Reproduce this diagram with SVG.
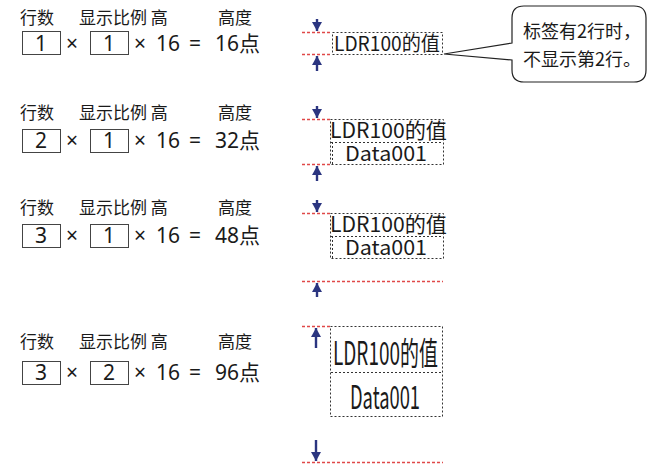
<svg xmlns="http://www.w3.org/2000/svg" width="649" height="466" viewBox="0 0 649 466">
<style>
text{font-family:"Noto Sans CJK SC","Noto Sans",sans-serif;fill:#1a1a1a}
.hd{font-size:17px}
.num{font-size:21px;font-family:"Noto Sans","Noto Sans CJK SC",sans-serif}
.box{fill:none;stroke:#444;stroke-width:1}
.dot{fill:none;stroke:#333;stroke-width:1;stroke-dasharray:2 2}
.red{stroke:#e04848;stroke-width:1.3;stroke-dasharray:3 2;fill:none}
.arr{stroke:#2b3580;stroke-width:2.4;fill:none;marker-end:url(#ah)}
</style>
<defs>
<marker id="ah" markerUnits="userSpaceOnUse" markerWidth="10" markerHeight="11" refX="9" refY="5.5" orient="auto">
<path d="M0,0.5 L9,5.5 L0,10.5 Z" fill="#2b3580"/>
</marker>
</defs>

<g id="formula1">
<text class="hd" x="20" y="24">行数</text>
<text class="hd" x="79" y="24">显示比例 高</text>
<text class="hd" x="218" y="24">高度</text>
<rect class="box" x="22.5" y="31.5" width="38" height="23"/>
<text class="num" x="41" y="51" text-anchor="middle">1</text>
<text class="num" x="66" y="51">×</text>
<rect class="box" x="90.5" y="31.5" width="38" height="23"/>
<text class="num" x="109" y="51" text-anchor="middle">1</text>
<text class="num" x="134" y="51">×</text>
<text class="num" x="156" y="51">16</text>
<text class="num" x="189" y="51">=</text>
<text class="num" x="215" y="51">16点</text>
</g>

<g id="formula2">
<text class="hd" x="20" y="119">行数</text>
<text class="hd" x="79" y="119">显示比例 高</text>
<text class="hd" x="218" y="119">高度</text>
<rect class="box" x="22.5" y="129.5" width="38" height="23"/>
<text class="num" x="41" y="148" text-anchor="middle">2</text>
<text class="num" x="66" y="148">×</text>
<rect class="box" x="90.5" y="129.5" width="38" height="23"/>
<text class="num" x="109" y="148" text-anchor="middle">1</text>
<text class="num" x="134" y="148">×</text>
<text class="num" x="156" y="148">16</text>
<text class="num" x="189" y="148">=</text>
<text class="num" x="215" y="148">32点</text>
</g>

<g id="formula3">
<text class="hd" x="20" y="214">行数</text>
<text class="hd" x="79" y="214">显示比例 高</text>
<text class="hd" x="218" y="214">高度</text>
<rect class="box" x="22.5" y="224.5" width="38" height="23"/>
<text class="num" x="41" y="243" text-anchor="middle">3</text>
<text class="num" x="66" y="243">×</text>
<rect class="box" x="90.5" y="224.5" width="38" height="23"/>
<text class="num" x="109" y="243" text-anchor="middle">1</text>
<text class="num" x="134" y="243">×</text>
<text class="num" x="156" y="243">16</text>
<text class="num" x="189" y="243">=</text>
<text class="num" x="215" y="243">48点</text>
</g>

<g id="formula4">
<text class="hd" x="20" y="348">行数</text>
<text class="hd" x="79" y="348">显示比例 高</text>
<text class="hd" x="218" y="348">高度</text>
<rect class="box" x="22.5" y="361.5" width="38" height="23"/>
<text class="num" x="41" y="380" text-anchor="middle">3</text>
<text class="num" x="66" y="380">×</text>
<rect class="box" x="90.5" y="361.5" width="38" height="23"/>
<text class="num" x="109" y="380" text-anchor="middle">2</text>
<text class="num" x="134" y="380">×</text>
<text class="num" x="156" y="380">16</text>
<text class="num" x="189" y="380">=</text>
<text class="num" x="215" y="380">96点</text>
</g>

<g id="label1">
<rect class="dot" x="332.5" y="32.5" width="110" height="22"/>
<text x="334" y="51" font-size="20" textLength="106" lengthAdjust="spacingAndGlyphs">LDR100的值</text>
</g>

<g id="label2">
<rect class="dot" x="330.5" y="119.5" width="113" height="45"/>
<line class="dot" x1="331" y1="142.5" x2="443" y2="142.5"/>
<line class="dot" x1="332.5" y1="142" x2="332.5" y2="164"/>
<text x="330" y="138" font-size="21" textLength="117" lengthAdjust="spacingAndGlyphs">LDR100的值</text>
<text x="345" y="161" font-size="20" textLength="82" lengthAdjust="spacingAndGlyphs">Data001</text>
</g>

<g id="label3">
<rect class="dot" x="330.5" y="213.5" width="113" height="45"/>
<line class="dot" x1="331" y1="236.5" x2="443" y2="236.5"/>
<line class="dot" x1="332.5" y1="236" x2="332.5" y2="258"/>
<text x="330" y="232" font-size="21" textLength="117" lengthAdjust="spacingAndGlyphs">LDR100的值</text>
<text x="345" y="255" font-size="20" textLength="82" lengthAdjust="spacingAndGlyphs">Data001</text>
</g>

<g id="label4">
<rect class="dot" x="330.5" y="326.5" width="112" height="90"/>
<line class="dot" x1="331" y1="372.5" x2="442" y2="372.5"/>
<text x="333" y="365" font-size="32" textLength="105" lengthAdjust="spacingAndGlyphs">LDR100的值</text>
<text x="350" y="409" font-size="32" textLength="70" lengthAdjust="spacingAndGlyphs">Data001</text>
</g>

<g id="callout">
<path d="M524,6 H634 Q646,6 646,18 V70 Q646,82 634,82 H524 Q512,82 512,70 V60 L444,54 L512,43 V18 Q512,6 524,6 Z" fill="#fff" stroke="#222" stroke-width="1.2"/>
<text x="523" y="38" font-size="18">标签有2行时，</text>
<text x="523" y="66" font-size="18">不显示第2行。</text>
</g>

<g id="connectors">
<line class="red" x1="302" y1="32.5" x2="332" y2="32.5"/>
<line class="red" x1="302" y1="54.5" x2="332" y2="54.5"/>
<line class="arr" x1="317" y1="19" x2="317" y2="31"/>
<line class="arr" x1="317" y1="71" x2="317" y2="56"/>

<line class="red" x1="302" y1="119.5" x2="330" y2="119.5"/>
<line class="red" x1="302" y1="164.5" x2="330" y2="164.5"/>
<line class="arr" x1="317" y1="106" x2="317" y2="118"/>
<line class="arr" x1="317" y1="181" x2="317" y2="166"/>

<line class="red" x1="302" y1="213.5" x2="330" y2="213.5"/>
<line class="red" x1="302" y1="281.5" x2="443" y2="281.5"/>
<line class="arr" x1="317" y1="200" x2="317" y2="212"/>
<line class="arr" x1="317" y1="297" x2="317" y2="283"/>

<line class="red" x1="302" y1="326.5" x2="330" y2="326.5"/>
<line class="red" x1="302" y1="462.5" x2="443" y2="462.5"/>
<line class="arr" x1="316" y1="348" x2="316" y2="328"/>
<line class="arr" x1="316" y1="440" x2="316" y2="461"/>
</g>
</svg>
